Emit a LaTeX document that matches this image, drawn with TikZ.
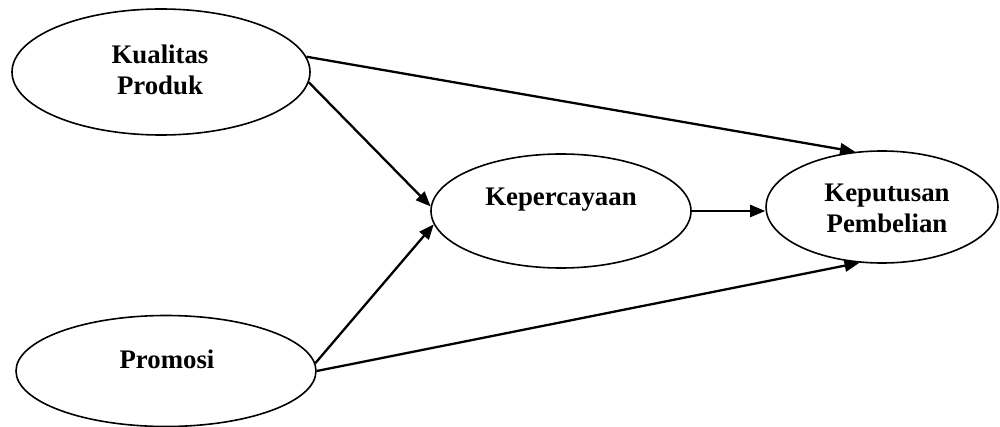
\documentclass[tikz,border=0pt]{standalone}
\usepackage{fontspec}
\setmainfont{Liberation Serif}
\usetikzlibrary{shapes.geometric,arrows.meta}
\begin{document}
\begin{tikzpicture}[x=1pt,y=-1pt,
  var/.style={draw,ellipse,line width=1.6pt,inner sep=0pt},
  lbl/.style={font=\bfseries\fontsize{26.8}{31}\selectfont,align=center,inner sep=0pt},
  conn/.style={line width=2.3pt,-{Triangle[length=15pt,width=12pt]}}]
\useasboundingbox (0,0) rectangle (1000,427);
% ellipses
\node[var,minimum width=298pt,minimum height=126pt] (kq) at (161,72) {};
\node[var,minimum width=300pt,minimum height=111pt] (pr) at (166,371) {};
\node[var,minimum width=260pt,minimum height=114pt] (kp) at (561,211) {};
\node[var,minimum width=232pt,minimum height=112pt] (kd) at (882,207) {};
% labels
\node[lbl] (tkq) at (160,70) {Kualitas\\Produk};
\node[lbl,anchor=base] (tpr) at (167,368) {Promosi};
\node[lbl,anchor=base] (tkp) at (561,206) {Kepercayaan};
\node[lbl] (tkd) at (887,208) {Keputusan\\Pembelian};
% connectors
\draw[conn] (kq.6.7) -- (kd.116.6);
\draw[conn] (kq.-4.6) -- (kp.178);
\draw[conn] (pr.3) -- (kp.186.7);
\draw[conn] (pr.-0.5) -- (kd.248.6);
\draw[conn] (kp.east) -- (kp.east -| kd.west);
\end{tikzpicture}
\end{document}
